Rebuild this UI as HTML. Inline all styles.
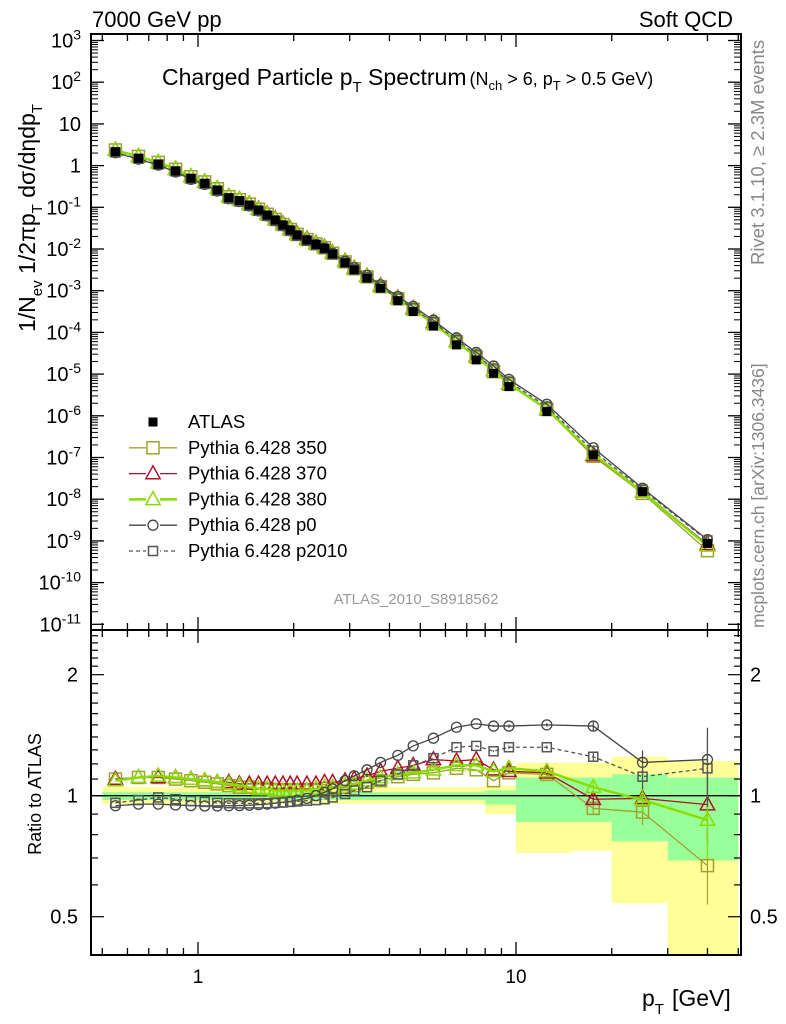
<!DOCTYPE html>
<html><head><meta charset="utf-8"><style>
body{margin:0;background:#fff}
svg{display:block;font-family:"Liberation Sans",sans-serif}
</style></head><body>
<svg id="c" width="786" height="1024" viewBox="0 0 786 1024" xmlns="http://www.w3.org/2000/svg">
<text x="92" y="27" font-size="22">7000 GeV pp</text>
<text x="733" y="27" font-size="22" text-anchor="end">Soft QCD</text>
<text x="162" y="85" font-size="23">Charged Particle p<tspan font-size="15" dy="7">T</tspan><tspan dy="-7"> Spectrum</tspan><tspan font-size="18" dx="3">(N<tspan font-size="13" dy="5">ch</tspan><tspan dy="-5"> &gt; 6, p</tspan><tspan font-size="13" dy="5">T</tspan><tspan dy="-5"> &gt; 0.5 GeV)</tspan></tspan></text>
<text transform="translate(35,332) rotate(-90)" font-size="23">1/N<tspan font-size="15" dy="7">ev</tspan><tspan dy="-7"> 1/2πp</tspan><tspan font-size="15" dy="7">T</tspan><tspan dy="-7"> dσ/dηdp</tspan><tspan font-size="15" dy="7">T</tspan></text>
<text transform="translate(764,265) rotate(-90)" font-size="18.5" fill="#888">Rivet 3.1.10, ≥ 2.3M events</text>
<text transform="translate(764,628) rotate(-90)" font-size="17.5" fill="#888">mcplots.cern.ch [arXiv:1306.3436]</text>
<text x="416" y="604" font-size="15" fill="#999" text-anchor="middle">ATLAS_2010_S8918562</text>
<text transform="translate(41,794) rotate(-90)" font-size="18" text-anchor="middle">Ratio to ATLAS</text>
<text x="642" y="1006" font-size="23">p<tspan font-size="15" dy="8">T</tspan><tspan dy="-8" dx="8">[GeV]</tspan></text>
<g id="g"></g>
</svg>
<script>
const pts=[0.55,0.65,0.75,0.85,0.95,1.05,1.15,1.25,1.35,1.45,1.55,1.65,1.75,1.85,1.95,2.05,2.2,2.35,2.5,2.65,2.9,3.1,3.4,3.75,4.25,4.75,5.5,6.5,7.5,8.5,9.5,12.5,17.5,25,40];
const atlasLog=[0.333,0.175,0.031,-0.13,-0.305,-0.425,-0.585,-0.77,-0.84,-0.945,-1.065,-1.185,-1.305,-1.425,-1.545,-1.665,-1.785,-1.89,-1.985,-2.12,-2.33,-2.5,-2.70,-2.94,-3.24,-3.50,-3.85,-4.30,-4.66,-4.98,-5.30,-5.90,-6.94,-7.82,-9.06];
const r350=[1.10,1.11,1.11,1.10,1.09,1.08,1.07,1.06,1.05,1.05,1.04,1.04,1.03,1.03,1.03,1.03,1.03,1.03,1.03,1.04,1.05,1.06,1.08,1.09,1.115,1.13,1.14,1.17,1.16,1.09,1.14,1.13,0.93,0.91,0.67];
const r370=[1.10,1.11,1.11,1.11,1.10,1.09,1.08,1.08,1.07,1.07,1.07,1.07,1.07,1.07,1.07,1.07,1.07,1.07,1.08,1.08,1.09,1.10,1.12,1.15,1.17,1.19,1.23,1.22,1.23,1.16,1.15,1.14,0.98,0.985,0.95];
const r380=[1.09,1.11,1.12,1.11,1.10,1.09,1.08,1.07,1.06,1.05,1.04,1.04,1.03,1.03,1.03,1.03,1.03,1.04,1.05,1.05,1.06,1.07,1.09,1.11,1.13,1.14,1.16,1.19,1.19,1.15,1.17,1.15,1.05,0.976,0.87];
const rp0=[0.944,0.953,0.953,0.948,0.945,0.943,0.943,0.944,0.945,0.947,0.95,0.953,0.958,0.963,0.968,0.975,0.985,1.0,1.02,1.04,1.09,1.12,1.16,1.21,1.26,1.33,1.39,1.48,1.51,1.49,1.49,1.50,1.49,1.21,1.23];
const rp2010=[0.96,0.975,0.99,0.98,0.97,0.965,0.96,0.958,0.957,0.957,0.957,0.958,0.96,0.962,0.965,0.968,0.972,0.975,0.98,0.99,1.01,1.03,1.05,1.09,1.13,1.19,1.24,1.32,1.33,1.29,1.32,1.32,1.25,1.115,1.17];
const relErr=[0,0,0,0,0,0,0,0,0,0,0,0,0,0,0,0,0,0,0,0,0,0,0,0,0,0,0,0,0,0.005,0.01,0.01,0.03,0.07,0.2];
const bandEdges=[0.5,8,10,15,20,30,50];
const yelLo=[0.954,0.90,0.72,0.73,0.54,0.3];
const yelHi=[1.05,1.06,1.21,1.21,1.25,1.22];
const grnLo=[0.976,0.95,0.86,0.86,0.77,0.69];
const grnHi=[1.02,1.03,1.11,1.11,1.13,1.11];
const yTickExp=[3,2,1,0,-1,-2,-3,-4,-5,-6,-7,-8,-9,-10,-11];
const ratioTicks=[2,1,0.5];
const xTickLabels=[1,10];

const L=91,R=741,T=34,M=630,B=955;
const X=p=>198+318*Math.log10(p);
const Y=l=>40.5+(3-l)*41.7;
const RY=r=>795.7-402*Math.log10(r);
const NS="http://www.w3.org/2000/svg";
const g=document.getElementById('g');
function el(t,a,p){const e=document.createElementNS(NS,t);for(const k in a)e.setAttribute(k,a[k]);(p||g).appendChild(e);return e;}

const bands=el('g',{});


for(let i=0;i<yelLo.length;i++){
  const x1=X(bandEdges[i]),x2=Math.min(X(bandEdges[i+1]),R);
  const top=RY(yelHi[i]),bot=Math.min(RY(yelLo[i]),B);
  const ry=el('rect',{x:x1,y:top,width:x2-x1,height:bot-top,fill:'#ffff99'},bands);
  
  
  const gt=RY(grnHi[i]),gb=RY(grnLo[i]);
  const rg=el('rect',{x:x1,y:gt,width:x2-x1,height:gb-gt,fill:'#99ff99'},bands);
  
  
}
el('line',{x1:L,x2:R,y1:RY(1),y2:RY(1),stroke:'#000','stroke-width':1.3});

const f1=el('rect',{x:L,y:T,width:R-L,height:M-T,fill:'none',stroke:'#000','stroke-width':2});


const f2=el('rect',{x:L,y:M,width:R-L,height:B-M,fill:'none',stroke:'#000','stroke-width':2});



for(let d=-1;d<=1;d++)for(let k=1;k<10;k++){
  const v=k*Math.pow(10,d),x=X(v);if(x<L||x>R)continue;
  const len=k==1?13:7;
  for(const [yb,dir] of [[T,1],[M,-1],[M,1],[B,-1]])
    el('line',{x1:x,x2:x,y1:yb,y2:yb+dir*len,stroke:'#000','stroke-width':1.3});
}
xTickLabels.forEach(v=>{const t=el('text',{x:X(v),y:983,'font-size':19,'text-anchor':'middle'});t.textContent=v;
 
 });

yTickExp.forEach(e=>{
  const y=Y(e);
  el('line',{x1:L,x2:L+13,y1:y,y2:y,stroke:'#000','stroke-width':1.3});
  el('line',{x1:R,x2:R-13,y1:y,y2:y,stroke:'#000','stroke-width':1.3});
  if(e>-11)for(let k=2;k<10;k++){const yy=Y(e-1+Math.log10(k));
    el('line',{x1:L,x2:L+7,y1:yy,y2:yy,stroke:'#000','stroke-width':1});
    el('line',{x1:R,x2:R-7,y1:yy,y2:yy,stroke:'#000','stroke-width':1});}
  const t=el('text',{x:81,y:y+7,'font-size':20,'text-anchor':'end'});
  
  
  if(e==0)t.textContent='1';else if(e==1)t.textContent='10';
  else{t.textContent='10';const s=el('tspan',{'font-size':14,dy:-8},t);s.textContent=e;}
});
for(let r=0.4;r<=2.6;r+=0.1){const y=RY(r);if(y<M||y>B)continue;
  const big=[0.5,1,2].some(v=>Math.abs(v-r)<1e-6);const len=big?13:7;
  el('line',{x1:L,x2:L+len,y1:y,y2:y,stroke:'#000','stroke-width':1.2});
  el('line',{x1:R,x2:R-len,y1:y,y2:y,stroke:'#000','stroke-width':1.2});}
ratioTicks.forEach(v=>{for(const [x,a] of [[78,'end'],[750,'start']]){
  const t=el('text',{x:x,y:RY(v)+7,'font-size':20,'text-anchor':a});t.textContent=v;
  
  }});

function marker(type,x,y,col,sz,p){
  if(type=='sq')return el('rect',{x:x-sz/2,y:y-sz/2,width:sz,height:sz,fill:'none',stroke:col,'stroke-width':1.5},p);
  if(type=='fsq')return el('rect',{x:x-sz/2,y:y-sz/2,width:sz,height:sz,fill:col},p);
  if(type=='tri')return el('path',{d:`M${x},${y-sz*0.6}L${x+sz*0.55},${y+sz*0.4}L${x-sz*0.55},${y+sz*0.4}Z`,fill:'none',stroke:col,'stroke-width':1.5},p);
  return el('circle',{cx:x,cy:y,r:sz/2,fill:'none',stroke:col,'stroke-width':1.3},p);
}
const series=[
 {name:'pythia-350',r:r350,col:'#a0a030',type:'sq',sz:12,w:1.3,dash:null},
 {name:'pythia-370',r:r370,col:'#b0102a',type:'tri',sz:13,w:1.3,dash:null},
 {name:'pythia-380',r:r380,col:'#88dd00',type:'tri',sz:13,w:2.5,dash:null},
 {name:'pythia-p0',r:rp0,col:'#444',type:'circ',sz:10,w:1.3,dash:null},
 {name:'pythia-p2010',r:rp2010,col:'#555',type:'sq',sz:9,w:1.3,dash:'4,3'}];
const ag=el('g',{});


series.forEach(s=>{
  const gm=el('g',{});
  
  
  const gr=el('g',{});
  
  
  const pm=pts.map((p,i)=>[X(p),Y(atlasLog[i]+Math.log10(s.r[i]))]);
  const pr=pts.map((p,i)=>[X(p),RY(s.r[i])]);
  const a={fill:'none',stroke:s.col,'stroke-width':s.w};if(s.dash)a['stroke-dasharray']=s.dash;
  el('polyline',Object.assign({points:pm.map(q=>q.join(',')).join(' ')},a),gm);
  el('polyline',Object.assign({points:pr.map(q=>q.join(',')).join(' ')},a),gr);
  pts.forEach((p,i)=>{
    marker(s.type,pm[i][0],pm[i][1],s.col,s.sz,gm);
    const y=pr[i][1];if(y>B||y<M)return;
    if(relErr[i]>0){el('line',{x1:pr[i][0],x2:pr[i][0],y1:RY(s.r[i]*(1+relErr[i])),y2:Math.min(B,RY(s.r[i]*(1-relErr[i]))),stroke:s.col,'stroke-width':1.2},gr);}
    marker(s.type,pr[i][0],y,s.col,s.sz,gr);
  });
});
pts.forEach((p,i)=>{marker('fsq',X(p),Y(atlasLog[i]),'#000',9,ag);});
g.appendChild(ag);

const lg=el('g',{});


const labels=['ATLAS','Pythia 6.428 350','Pythia 6.428 370','Pythia 6.428 380','Pythia 6.428 p0','Pythia 6.428 p2010'];
labels.forEach((lab,i)=>{
  const y=422+i*25.8;
  const e=el('g',{},lg);
  
  
  if(i==0)marker('fsq',153,y,'#000',9,e);
  else{const s=series[i-1];const a={x1:129,x2:177,y1:y,y2:y,stroke:s.col,'stroke-width':s.w};if(s.dash)a['stroke-dasharray']=s.dash;el('line',a,e);
    el('rect',{x:146,y:y-7,width:14,height:14,fill:'#fff'},e);marker(s.type,153,y,s.col,s.sz,e);}
  const t=el('text',{x:188,y:y+6,'font-size':18.5},e);t.textContent=lab;
});
</script>
</body></html>
